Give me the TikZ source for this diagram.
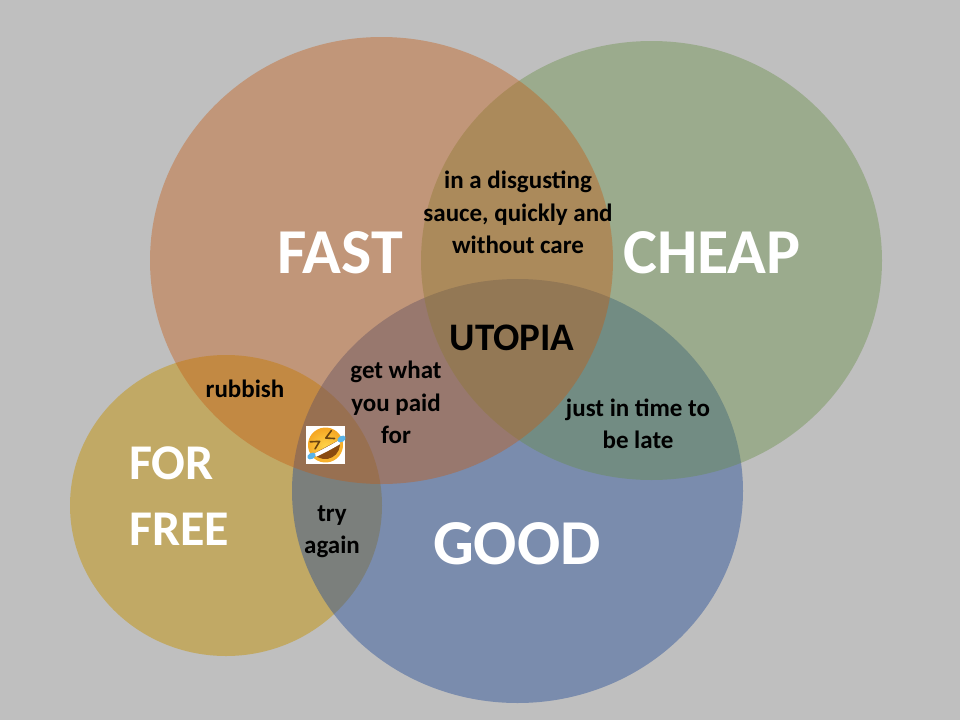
\documentclass[tikz,border=0pt]{standalone}
\usepackage{fontspec}
\setmainfont{Carlito}
\definecolor{bgc}{HTML}{BFBFBF}
\definecolor{fastc}{HTML}{C55A11}
\definecolor{cheapc}{HTML}{678D44}
\definecolor{goodc}{HTML}{264E99}
\definecolor{freec}{HTML}{C3950D}
\definecolor{facein}{HTML}{FFD54A}
\definecolor{faceout}{HTML}{F5A623}
\definecolor{tearc}{HTML}{5AB4E8}
\definecolor{mouthc}{HTML}{8A4B10}
\definecolor{eyec}{HTML}{6B4410}
\tikzset{
  venn/.style={ellipse,draw=none,fill opacity=0.4,inner sep=0pt,outer sep=0pt},
  big/.style={text=white,font=\bfseries\fontsize{64}{70}\selectfont,inner sep=0pt},
  mid/.style={text=white,font=\bfseries\fontsize{50}{66}\selectfont,inner sep=0pt,align=left},
  small/.style={text=black,font=\bfseries\fontsize{25}{32.5}\selectfont,inner sep=0pt,align=center},
  utop/.style={text=black,font=\bfseries\fontsize{39}{42}\selectfont,inner sep=0pt}
}
\usetikzlibrary{shapes.geometric}
\begin{document}
\begin{tikzpicture}[x=1pt,y=-1pt]
\useasboundingbox (0,0) rectangle (960,720);
\fill[bgc] (0,0) rectangle (960,720);
\node[venn,fill=freec,fill opacity=0.5,minimum width=312pt,minimum height=301pt] (free) at (226,505.5) {};
\node[venn,fill=goodc,fill opacity=0.45,minimum width=451pt,minimum height=424pt] (good) at (517.5,491) {};
\node[venn,fill=cheapc,minimum width=461pt,minimum height=439pt] (cheap) at (651.5,260.5) {};
\node[venn,fill=fastc,minimum width=463pt,minimum height=447pt] (fast) at (381.5,260.5) {};
\node[big] (tfast) at (340,253) {FAST};
\node[big] (tcheap) at (712,253) {CHEAP};
\node[big] (tgood) at (517,544) {GOOD};
\node[mid,anchor=west] (tfree) at (129,496) {FOR\\FREE};
\node[utop] (tutop) at (512,338) {UTOPIA};
\node[small] (t1) at (518,212.5) {in a disgusting\\sauce, quickly and\\without care};
\node[small] (t2) at (396,402.5) {get what\\you paid\\for};
\node[small] (t3) at (638,424) {just in time to\\be late};
\node[small] (t4) at (245,389) {rubbish};
\node[small] (t5) at (332,531.5) {try\\again};
% emoji
\begin{scope}[shift={(325.5,445)}]
\fill[white] (-19.5,-19) rectangle (19.5,19);
\begin{scope}[rotate=28]
\shade[inner color=facein,outer color=faceout] (0,0) circle (17.5);
\fill[mouthc] (-15,2) .. controls (-10,18) and (10,18) .. (15,2) -- cycle;
\fill[white] (-15,2) .. controls (-6,2.5) and (6,2.5) .. (15,2) -- (13.5,6) .. controls (6,6.5) and (-6,6.5) .. (-13.5,6) -- cycle;
\draw[line width=1.6pt,eyec,line cap=round,line join=round] (-12,-10) -- (-3.5,-6) -- (-11,-1.5);
\draw[line width=1.6pt,eyec,line cap=round,line join=round] (12,-10) -- (3.5,-6) -- (11,-1.5);
\end{scope}
\fill[tearc,rotate around={28:(16,-6)}] (16,-6) ellipse (4.5 and 3);
\fill[tearc,rotate around={28:(-14,11)}] (-14,11) ellipse (4.5 and 3);
\end{scope}
\end{tikzpicture}
\end{document}
